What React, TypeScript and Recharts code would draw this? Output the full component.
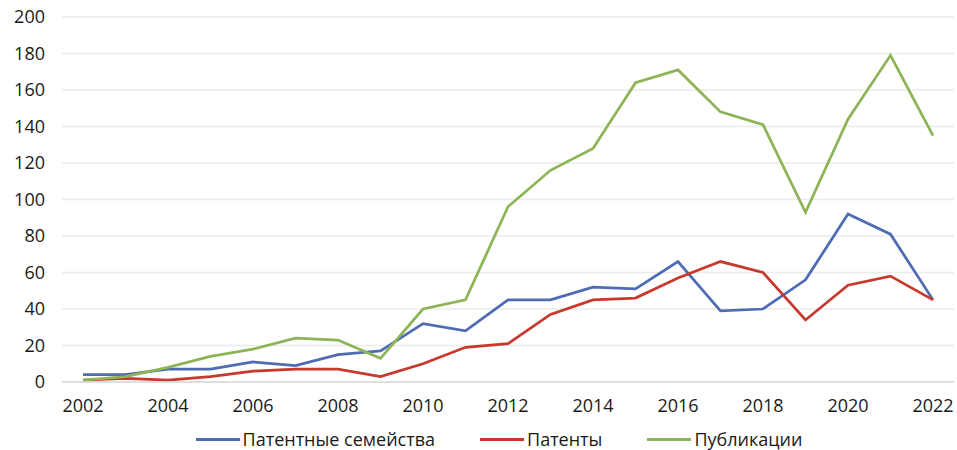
import React from "react";
import { LineChart, Line, XAxis, YAxis, CartesianGrid, Legend } from "recharts";

const years = ["2002","2003","2004","2005","2006","2007","2008","2009","2010","2011","2012","2013","2014","2015","2016","2017","2018","2019","2020","2021","2022"];
const families = [4, 4, 7, 7, 11, 9, 15, 17, 32, 28, 45, 45, 52, 51, 66, 39, 40, 56, 92, 81, 45];
const patents = [1, 2, 1, 3, 6, 7, 7, 3, 10, 19, 21, 37, 45, 46, 57, 66, 60, 34, 53, 58, 45];
const publications = [1, 3, 8, 14, 18, 24, 23, 13, 40, 45, 96, 116, 128, 164, 171, 148, 141, 93, 144, 179, 135];
const yTicks = [0, 20, 40, 60, 80, 100, 120, 140, 160, 180, 200];
const xTicks = ["2002","2004","2006","2008","2010","2012","2014","2016","2018","2020","2022"];

const series = [
  { key: "families", name: "Патентные семейства", color: "#4E6CB4" },
  { key: "patents", name: "Патенты", color: "#C8382C" },
  { key: "publications", name: "Публикации", color: "#8DB456" },
];

const data = years.map((y, i) => ({
  year: y,
  families: families[i],
  patents: patents[i],
  publications: publications[i],
}));

const FONT = "'Open Sans', sans-serif";

const LegendContent = () => (
  <div style={{ display: "flex", justifyContent: "center", alignItems: "center", height: 20, paddingLeft: 44, fontFamily: FONT, fontSize: 18, color: "#1a1a1a" }}>
    {series.map((s, i) => (
      <div key={s.key} style={{ display: "flex", alignItems: "center", marginLeft: i === 0 ? 0 : 45 }}>
        <div style={{ width: 44, height: 3, background: s.color, marginRight: 3 }} />
        <span style={{ lineHeight: "20px", whiteSpace: "nowrap" }}>{s.name}</span>
      </div>
    ))}
  </div>
);

export default function App() {
  return (
    <div style={{ position: "absolute", left: 0, top: 0, background: "#fff" }}>
      <LineChart width={957} height={450} data={data} margin={{ top: 17, right: 3, left: 0, bottom: 0 }}>
        <CartesianGrid horizontal vertical={false} stroke="#ebebeb" strokeWidth={1.5} />
        <XAxis
          dataKey="year"
          ticks={xTicks}
          interval={0}
          padding={{ left: 21, right: 21 }}
          tickLine={false}
          axisLine={{ stroke: "#dadada", strokeWidth: 1.5 }}
          tickMargin={11}
          height={48}
          tick={{ fontFamily: FONT, fontSize: 18, fill: "#1a1a1a" }}
        />
        <YAxis
          domain={[0, 200]}
          ticks={yTicks}
          interval={0}
          width={62}
          axisLine={false}
          tickLine={false}
          tickMargin={11}
          tick={{ fontFamily: FONT, fontSize: 18, fill: "#1a1a1a" }}
        />
        <Legend verticalAlign="bottom" content={<LegendContent />} wrapperStyle={{ bottom: 1 }} />
        {series.map((s) => (
          <Line
            key={s.key}
            type="linear"
            dataKey={s.key}
            name={s.name}
            stroke={s.color}
            strokeWidth={2.75}
            dot={false}
            activeDot={false}
            isAnimationActive={false}
          />
        ))}
      </LineChart>
    </div>
  );
}
